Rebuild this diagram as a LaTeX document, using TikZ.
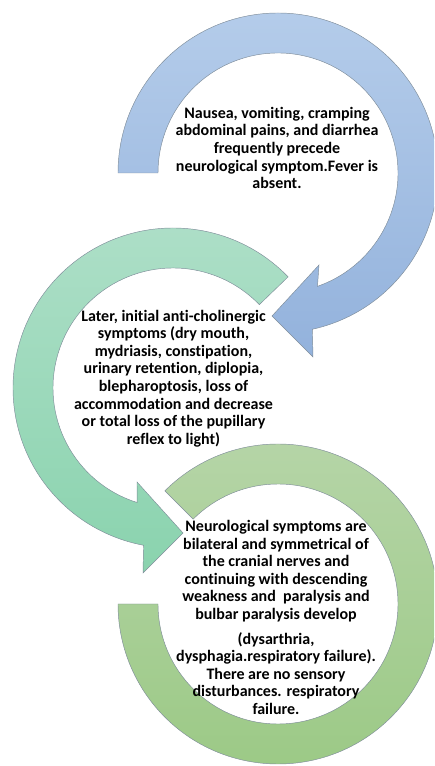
\documentclass[tikz,border=0pt]{standalone}
\usepackage{fontspec}
\setmainfont{Carlito}[Ligatures=NoCommon]
\usetikzlibrary{calc}
\definecolor{bluetop}{HTML}{B4CCEA}
\definecolor{bluebot}{HTML}{93B2DC}
\definecolor{tealtop}{HTML}{AEDFC8}
\definecolor{tealbot}{HTML}{8AD3AE}
\definecolor{greentop}{HTML}{B6D5A8}
\definecolor{greenbot}{HTML}{9BC985}
\definecolor{edgegray}{HTML}{7E8C99}
\tikzset{
  ring/.style={draw=edgegray, line width=0.45pt, line join=miter},
  txt/.style={align=center, font=\fontsize{16}{17.6}\selectfont\bfseries, text=black, inner sep=0pt}
}
\begin{document}
\begin{tikzpicture}[x=1pt,y=1pt]
\useasboundingbox (0,0) rectangle (434,766);
\clip (0,0) rectangle (434,766);
\coordinate (c1) at (278,593);
\coordinate (c2) at (173,378);
\coordinate (c3) at (278,162);
% ring 3 (green, no head)
\path[ring, top color=greentop, bottom color=greenbot]
  ($(c3)+(135:160)$) arc[start angle=135, end angle=-180, radius=160]
  -- ($(c3)+(-180:120)$) arc[start angle=-180, end angle=135, radius=120]
  -- cycle;
% ring 2 (teal, head bottom)
\path[ring, top color=tealtop, bottom color=tealbot]
  ($(c2)+(44:160)$) arc[start angle=44, end angle=259.4, radius=160]
  -- ($(c2)+(-30,-185)$) -- ($(c2)+(10,-145)$) -- ($(c2)+(-36,-94)$)
  -- ($(c2)+(252.6:120)$) arc[start angle=252.6, end angle=44, radius=120]
  -- cycle;
% ring 1 (blue, head lower right)
\path[ring, top color=bluetop, bottom color=bluebot]
  ($(c1)+(180:160)$) arc[start angle=180, end angle=-77.6, radius=160]
  -- ($(c1)+(35,-184)$) -- ($(c1)+(-6,-143)$) -- ($(c1)+(41,-92)$)
  -- ($(c1)+(-70.8:120)$) arc[start angle=-70.8, end angle=180, radius=120]
  -- cycle;
\node[txt] (t1) at (277,618) {Nausea, vomiting, cramping\\abdominal pains, and diarrhea\\frequently precede\\neurological symptom.Fever is\\absent.};
\node[txt] (t2) at (173.5,387.5) {Later, initial anti-cholinergic\\symptoms (dry mouth,\\mydriasis, constipation,\\urinary retention, diplopia,\\blepharoptosis, loss of\\accommodation and decrease\\or total loss of the pupillary\\reflex to light)};
\node[txt] (t3) at (276,148.5) {Neurological symptoms are\\bilateral and symmetrical of\\the cranial nerves and\\continuing with descending\\weakness and\ \ paralysis and\\bulbar paralysis develop\\[7pt](dysarthria,\\dysphagia.respiratory failure).\\There are no sensory\\disturbances. respiratory\\failure.};
\end{tikzpicture}
\end{document}
